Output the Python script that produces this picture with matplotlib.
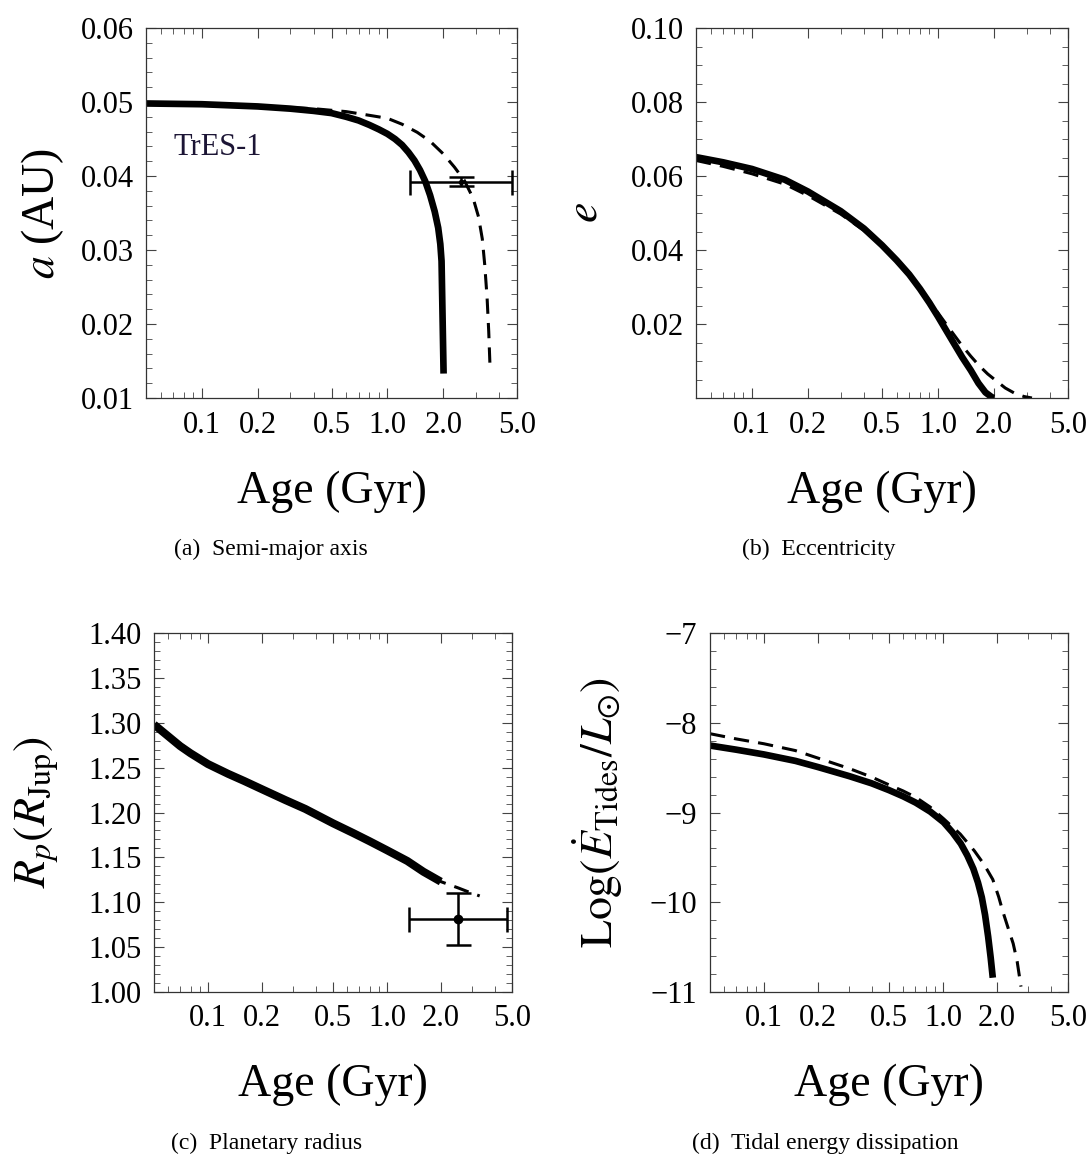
import matplotlib
matplotlib.use('Agg')
import matplotlib.pyplot as plt
from matplotlib.ticker import FixedLocator, FixedFormatter, MultipleLocator, LogLocator, NullFormatter

plt.rcParams['font.family'] = ['Liberation Serif', 'DejaVu Serif']
plt.rcParams['mathtext.fontset'] = 'stix'

# ---- data ----
# (a) semi-major axis (AU)
age_a_solid = [0.05, 0.1, 0.2, 0.3, 0.4, 0.5, 0.6, 0.7, 0.8, 0.9, 1.0, 1.1, 1.2, 1.3,
               1.4, 1.5, 1.6, 1.7, 1.8, 1.88, 1.93, 1.96, 2.01]
a_solid = [0.0498, 0.0497, 0.0494, 0.0491, 0.0488, 0.0485, 0.0480, 0.0475, 0.0469, 0.0463,
           0.0457, 0.0450, 0.0442, 0.0432, 0.0421, 0.0408, 0.0393, 0.0374, 0.0352, 0.0330,
           0.0308, 0.0285, 0.0133]
age_a_dash = [0.05, 0.2, 0.4, 0.6, 0.8, 1.0, 1.2, 1.45, 1.7, 2.0, 2.3, 2.6, 2.9, 3.1,
              3.25, 3.35, 3.45, 3.52, 3.58]
a_dash = [0.0498, 0.0494, 0.0491, 0.0487, 0.0482, 0.0478, 0.0470, 0.0459, 0.0447, 0.0430,
          0.0412, 0.0394, 0.0370, 0.0345, 0.0315, 0.0280, 0.0235, 0.0190, 0.0140]
a_obs = 0.0392
a_obs_err = 0.0006

# (b) eccentricity
age_e_solid = [0.05, 0.07, 0.1, 0.15, 0.2, 0.3, 0.4, 0.5, 0.6, 0.7, 0.8, 0.9, 1.0, 1.1,
               1.22, 1.35, 1.5, 1.65, 1.8, 1.95, 2.0]
e_solid = [0.0651, 0.0637, 0.0619, 0.0590, 0.0558, 0.0505, 0.0458, 0.0413, 0.0372, 0.0334,
           0.0295, 0.0257, 0.0220, 0.0185, 0.0147, 0.0110, 0.0075, 0.0040, 0.0015, 0.0002, 0.0]
age_e_dash = [0.05, 0.07, 0.1, 0.15, 0.2, 0.3, 0.4, 0.5, 0.7, 0.87, 1.0, 1.15, 1.33, 1.5,
              1.66, 1.85, 2.05, 2.3, 2.6, 2.9, 3.2]
e_dash = [0.0642, 0.0626, 0.0606, 0.0578, 0.0547, 0.0497, 0.0453, 0.0412, 0.0337, 0.0273,
          0.0230, 0.0188, 0.0145, 0.0113, 0.0088, 0.0065, 0.0047, 0.0027, 0.0012, 0.0004, 0.0]

# (c) planetary radius (R_Jup)
age_r_solid = [0.05, 0.06, 0.07, 0.08, 0.1, 0.13, 0.16, 0.2, 0.27, 0.35, 0.5, 0.65, 0.8,
               1.0, 1.3, 1.6, 2.0]
r_solid = [1.298, 1.285, 1.274, 1.266, 1.254, 1.243, 1.235, 1.226, 1.214, 1.204, 1.188,
           1.177, 1.168, 1.158, 1.146, 1.134, 1.123]
age_r_dash = [0.05, 0.1, 0.2, 0.5, 1.0, 2.0, 2.2, 2.5, 2.9, 3.3]
r_dash = [1.298, 1.254, 1.226, 1.188, 1.158, 1.123, 1.120, 1.116, 1.111, 1.107]
r_obs = 1.081
r_obs_err = 0.029

# (d) log tidal energy dissipation
age_d_solid = [0.05, 0.07, 0.1, 0.15, 0.2, 0.3, 0.4, 0.5, 0.6, 0.705, 0.85, 1.01, 1.13,
               1.26, 1.37, 1.48, 1.57, 1.65, 1.72, 1.79, 1.85, 1.9]
d_solid = [-8.254, -8.30, -8.353, -8.425, -8.493, -8.595, -8.675, -8.751, -8.82, -8.89,
           -8.99, -9.109, -9.22, -9.348, -9.48, -9.627, -9.78, -9.945, -10.14, -10.383,
           -10.62, -10.841]
age_d_dash = [0.05, 0.07, 0.1, 0.15, 0.2, 0.3, 0.4, 0.5, 0.6, 0.705, 0.85, 1.01, 1.25,
              1.5, 1.7, 1.9, 2.05, 2.16, 2.3, 2.47, 2.6, 2.73]
d_dash = [-8.122, -8.18, -8.234, -8.31, -8.393, -8.51, -8.605, -8.692, -8.76, -8.83,
          -8.94, -9.07, -9.24, -9.428, -9.58, -9.746, -9.94, -10.10, -10.27, -10.46,
          -10.66, -10.94]

# observed age of TrES-1
age_obs = 2.5
age_err_lo = 1.17
age_err_hi = 2.18

xticks = [0.1, 0.2, 0.5, 1.0, 2.0, 5.0]
xticklabels = ['0.1', '0.2', '0.5', '1.0', '2.0', '5.0']

# ---- figure ----
W, H = 1089, 1156
fig = plt.figure(figsize=(W / 100, H / 100), dpi=100)

def px_axes(left, top, right, bottom):
    return fig.add_axes([left / W, 1 - bottom / H, (right - left) / W, (bottom - top) / H])

ax1 = px_axes(146, 28, 517, 398)
ax2 = px_axes(696, 28, 1068, 398)
ax3 = px_axes(154, 633, 512, 992)
ax4 = px_axes(710, 633, 1068, 992)

solid_kw = dict(color='black', lw=4.8, solid_capstyle='butt', solid_joinstyle='round')
dash_kw = dict(color='black', lw=2.2, dashes=(5.0, 3.0))
err_kw = dict(fmt='o', color='black', elinewidth=1.8, capsize=9, capthick=1.8)

ax1.plot(age_a_dash, a_dash, **dash_kw)
ax1.plot(age_a_solid, a_solid, **solid_kw)
ax1.errorbar([age_obs], [a_obs], xerr=[[age_err_lo], [age_err_hi]], yerr=a_obs_err,
             ms=3, **err_kw)
ax1.text(0.075, 0.657, 'TrES-1', transform=ax1.transAxes, fontsize=22,
         color='#1c1535', va='baseline', ha='left')

ax2.plot(age_e_dash, e_dash, **dash_kw)
ax2.plot(age_e_solid, e_solid, **solid_kw)

ax3.plot(age_r_dash, r_dash, **dash_kw)
ax3.plot(age_r_solid, r_solid, color='black', lw=5.8, solid_capstyle='butt')
ax3.errorbar([age_obs], [r_obs], xerr=[[age_err_lo], [age_err_hi]], yerr=r_obs_err,
             ms=6, **err_kw)

ax4.plot(age_d_dash, d_dash, **dash_kw)
ax4.plot(age_d_solid, d_solid, **solid_kw)

ylims = [(0.01, 0.06), (0.0, 0.10), (1.00, 1.40), (-11, -7)]
ymajor = [0.01, 0.02, 0.05, 1]
yminor = [0.002, 0.005, 0.01, 0.2]
yfmt = ['{:.2f}', '{:.2f}', '{:.2f}', '{:.0f}']
ylabels = [r'$a$ (AU)', r'$e$', r'$R_p(R_{\mathrm{Jup}})$',
           r'$\mathrm{Log}(\dot{E}_{\mathrm{Tides}}/L_{\odot})$']
ylabel_x = [-0.278, -0.298, -0.33, -0.313]

for i, ax in enumerate([ax1, ax2, ax3, ax4]):
    ax.set_xscale('log')
    ax.set_xlim(0.05, 5.0)
    ax.set_ylim(ylims[i])
    ax.xaxis.set_major_locator(FixedLocator(xticks))
    ax.xaxis.set_major_formatter(FixedFormatter(xticklabels))
    ax.xaxis.set_minor_locator(LogLocator(base=10, subs=[3, 4, 6, 7, 8, 9]))
    ax.xaxis.set_minor_formatter(NullFormatter())

    lo, hi = ylims[i]
    step = ymajor[i]
    yt = []
    v = lo
    while v <= hi + 1e-9:
        yt.append(round(v, 4))
        v += step
    if i == 1:
        yt = [t for t in yt if t > 0]
    ax.yaxis.set_major_locator(FixedLocator(yt))
    labs = [yfmt[i].format(t) for t in yt]
    if i == 3:
        labs = [l.replace('-', '\u2212') for l in labs]
    ax.yaxis.set_major_formatter(FixedFormatter(labs))
    ax.yaxis.set_minor_locator(MultipleLocator(yminor[i]))

    ax.tick_params(which='both', direction='in', top=True, right=True,
                   color='#444444', labelsize=22, pad=9)
    ax.tick_params(which='major', length=7, width=0.8)
    ax.tick_params(which='minor', length=4, width=0.6)
    for sp in ax.spines.values():
        sp.set_color('#333333')
        sp.set_linewidth(0.9)

    ax.set_xlabel('Age (Gyr)', fontsize=33)
    ax.xaxis.label.set_va('center')
    ax.set_ylabel(ylabels[i], fontsize=33)
    ax.yaxis.label.set_va('center')
    ax.yaxis.set_label_coords(ylabel_x[i], 0.5)

ax1.xaxis.set_label_coords(0.5, -0.254)
ax2.xaxis.set_label_coords(0.5, -0.254)
ax3.xaxis.set_label_coords(0.5, -0.259)
ax4.xaxis.set_label_coords(0.5, -0.259)

captions = [('(a)  Semi-major axis', 271, 549), ('(b)  Eccentricity', 819, 549),
            ('(c)  Planetary radius', 267, 1143), ('(d)  Tidal energy dissipation', 825, 1143)]
for txt, cx, cy in captions:
    fig.text(cx / W, 1 - cy / H, txt, ha='center', va='center', fontsize=17)

fig.savefig('out.png', dpi=100)
